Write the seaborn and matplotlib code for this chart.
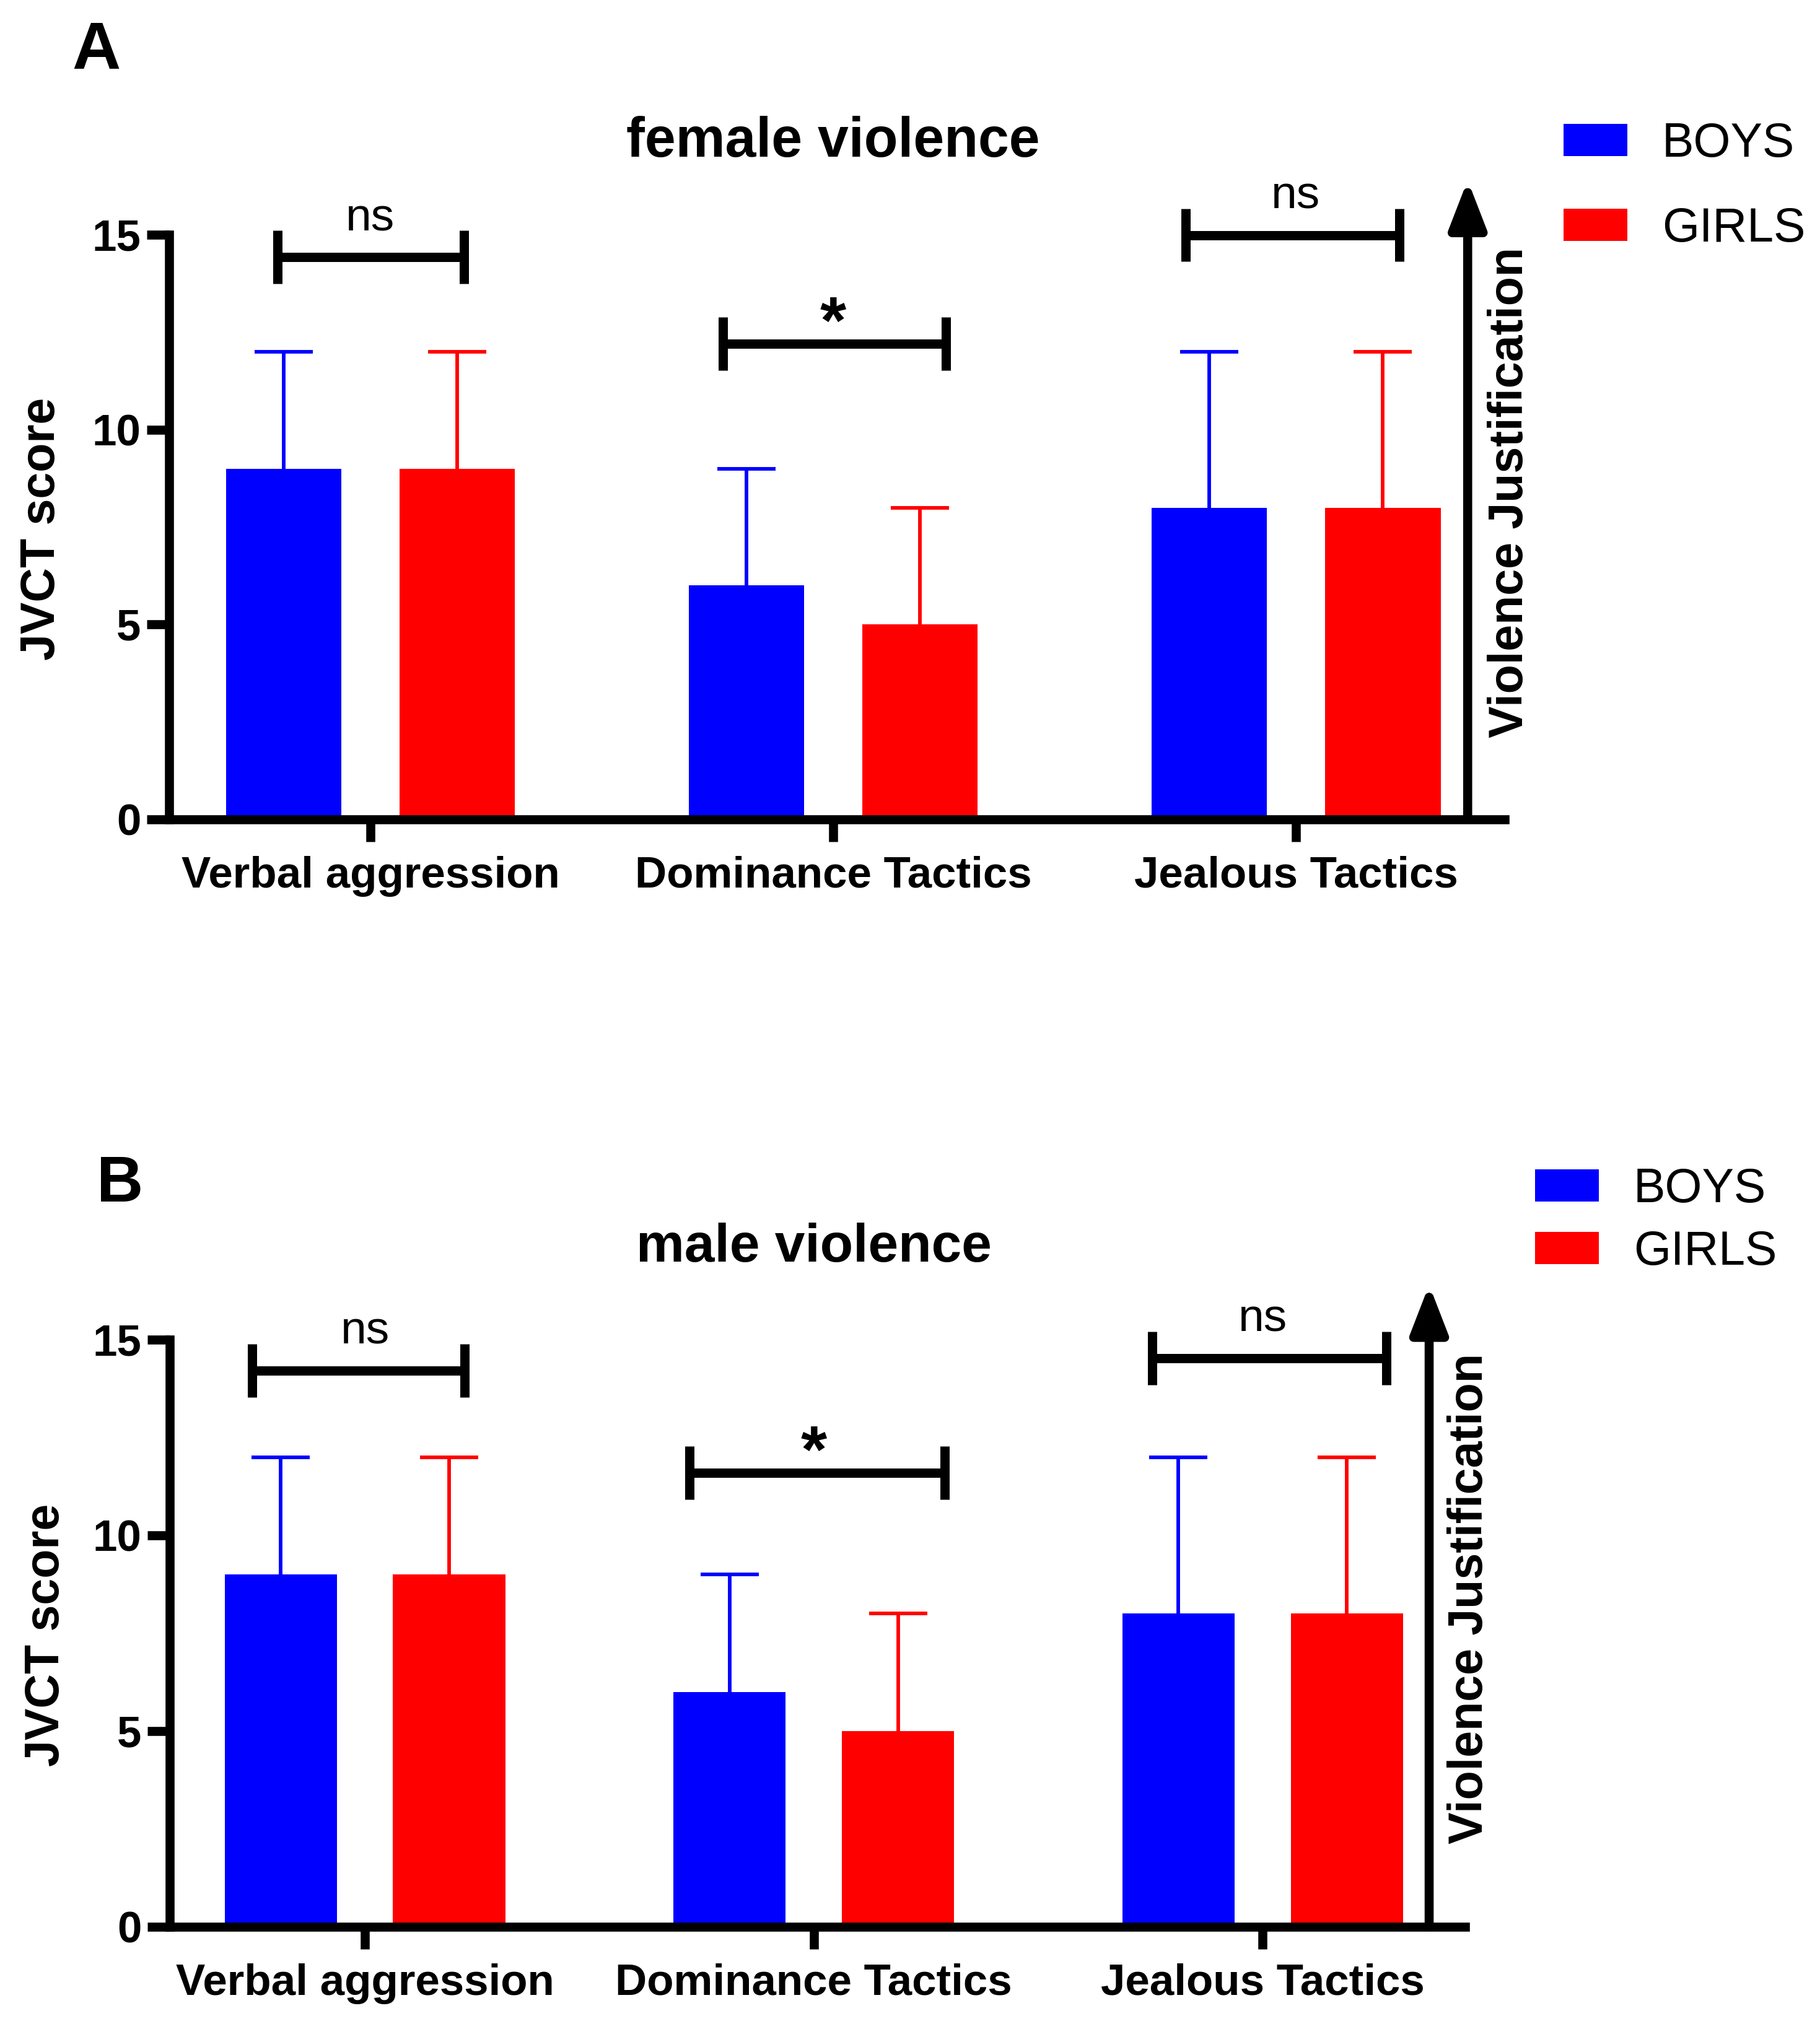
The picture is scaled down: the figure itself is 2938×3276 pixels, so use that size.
import numpy as np
import pandas as pd
import matplotlib
matplotlib.use("Agg")
import matplotlib.pyplot as plt
import seaborn as sns
from matplotlib.patches import Patch

# ---------------- data ----------------
categories = ["Verbal aggression", "Dominance Tactics", "Jealous Tactics"]
groups = ["BOYS", "GIRLS"]
boys_mean = [9, 6, 8]
girls_mean = [9, 5, 8]
boys_err = [3, 3, 4]
girls_err = [3, 3, 4]
y_ticks = [0, 5, 10, 15]
panel_titles = ["female violence", "male violence"]
panel_letters = ["A", "B"]
sig_labels = ["ns", "*", "ns"]

# ---------------- layout / style ----------------
BLUE, RED = "#0000FF", "#FF0000"
FONT = ["Liberation Sans", "DejaVu Sans"]
LW = 3.5

sns.set_theme(style="ticks")
plt.rcParams["font.family"] = FONT
for key in ["text.color", "axes.labelcolor", "xtick.color", "ytick.color",
            "axes.edgecolor"]:
    plt.rcParams[key] = "black"

W, H = 2938, 3276
DPI = 300
fig = plt.figure(figsize=(W / DPI, H / DPI), dpi=DPI)

panels = [
    dict(rect=[273 / W, 1 - 1323 / H, 2156 / W, 17 * 62.93 / H],
         brackets=[(-0.201, 0.202, 14.43), (-0.238, 0.244, 12.2), (-0.238, 0.224, 14.99)],
         letter_xy=(116 / W, 1 - 111 / H), letter_size=26,
         title_size=21.5,
         legend_xy=(2524 / W, 1 - 196 / H), legend_spacing=0.83),
    dict(rect=[274 / W, 1 - 3111 / H, 2091 / W, 17 * 63.2 / H],
         brackets=[(-0.251, 0.222, 14.21), (-0.277, 0.291, 11.6), (-0.246, 0.276, 14.53)],
         letter_xy=(156 / W, 1 - 1940 / H), letter_size=25,
         title_size=21,
         legend_xy=(2478 / W, 1 - 1884 / H), legend_spacing=0.36),
]

df = pd.DataFrame({
    "category": categories * 2,
    "group": [groups[0]] * 3 + [groups[1]] * 3,
    "value": boys_mean + girls_mean,
})
errs = {groups[0]: boys_err, groups[1]: girls_err}
colors = {groups[0]: BLUE, groups[1]: RED}

for i, p in enumerate(panels):
    ax = fig.add_axes(p["rect"])
    sns.barplot(data=df, x="category", y="value", hue="group",
                order=categories, hue_order=groups,
                palette=[BLUE, RED], saturation=1, width=0.75, gap=1 / 3,
                errorbar=None, legend=False, ax=ax, linewidth=0, zorder=2)

    # error bars (upper only) on the bars drawn by seaborn
    for g, cont in zip(groups, ax.containers):
        xs = [b.get_x() + b.get_width() / 2 for b in cont]
        ys = [b.get_height() for b in cont]
        e = errs[g]
        _, caps, _ = ax.errorbar(xs, ys, yerr=[np.zeros(len(e)), e], fmt="none",
                                 ecolor=colors[g], elinewidth=1.4, capsize=11.3,
                                 capthick=1.4, zorder=1)
        for cap in caps:
            if np.allclose(cap.get_ydata(), ys):
                cap.set_visible(False)

    ax.set_xlim(-0.435, 2.451)
    ax.set_ylim(0, 17)
    ax.set_yticks(y_ticks)
    ax.set_xlabel("")
    ax.set_ylabel("")
    ax.set_facecolor("none")
    for s in ["top", "right"]:
        ax.spines[s].set_visible(False)
    for s in ["left", "bottom"]:
        ax.spines[s].set_linewidth(LW)
        ax.spines[s].set_color("black")
    ax.spines["left"].set_bounds(0, 15)
    ax.tick_params(axis="both", direction="out", length=8.6, width=LW,
                   color="black", labelcolor="black")
    ax.tick_params(axis="y", pad=2.3)
    ax.tick_params(axis="x", pad=5.5)
    for lab in ax.get_yticklabels():
        lab.set_fontsize(17)
        lab.set_fontweight("bold")
    for lab in ax.get_xticklabels():
        lab.set_fontsize(17)
        lab.set_fontweight("bold")

    # significance brackets
    hh = 0.68
    for k, (x0, x1, y) in enumerate(p["brackets"]):
        c = k
        ax.plot([c + x0, c + x1], [y, y], color="black", lw=3.6,
                solid_capstyle="butt", clip_on=False, zorder=3)
        for xe in (c + x0, c + x1):
            ax.plot([xe, xe], [y - hh, y + hh], color="black", lw=3.6,
                    solid_capstyle="butt", clip_on=False, zorder=3)
        lab = sig_labels[k]
        if lab == "*":
            ax.text(c, y + 0.02, lab, ha="center", va="baseline",
                    fontsize=26, fontweight="bold", clip_on=False)
        else:
            ax.text(c, y + hh, lab, ha="center", va="baseline",
                    fontsize=18, clip_on=False)

    # vertical arrow "Violence Justification"
    ax.annotate("", xy=(2.371, 16.4), xytext=(2.371, 0),
                xycoords="data", textcoords="data",
                arrowprops=dict(arrowstyle="-|>,head_length=1.55,head_width=0.6",
                                mutation_scale=10, lw=LW, color="black",
                                shrinkA=0, shrinkB=0),
                annotation_clip=False)
    ax.text(2.462, 8.39, "Violence Justification", rotation=90,
            ha="center", va="center", fontsize=18.5, fontweight="bold",
            clip_on=False)
    ax.text(-0.71, 7.45, "JVCT score", rotation=90, ha="center",
            va="center", fontsize=18.5, fontweight="bold", clip_on=False)

    # title
    ax.text(1, 17, panel_titles[i], ha="center", va="baseline",
            fontsize=p["title_size"], fontweight="bold", clip_on=False)

    # panel letter
    fig.text(p["letter_xy"][0], p["letter_xy"][1], panel_letters[i],
             ha="left", va="baseline", fontsize=p["letter_size"],
             fontweight="bold")

    # legend
    handles = [Patch(facecolor=colors[g], edgecolor="none") for g in groups]
    leg = fig.legend(handles, groups, loc="upper left",
                     bbox_to_anchor=p["legend_xy"], bbox_transform=fig.transFigure,
                     frameon=False, borderpad=0, borderaxespad=0,
                     handlelength=1.33, handleheight=0.66, handletextpad=0.73,
                     labelspacing=p["legend_spacing"], fontsize=18.5)
    for t in leg.get_texts():
        t.set_color("black")

fig.savefig("out.png", dpi=DPI)
